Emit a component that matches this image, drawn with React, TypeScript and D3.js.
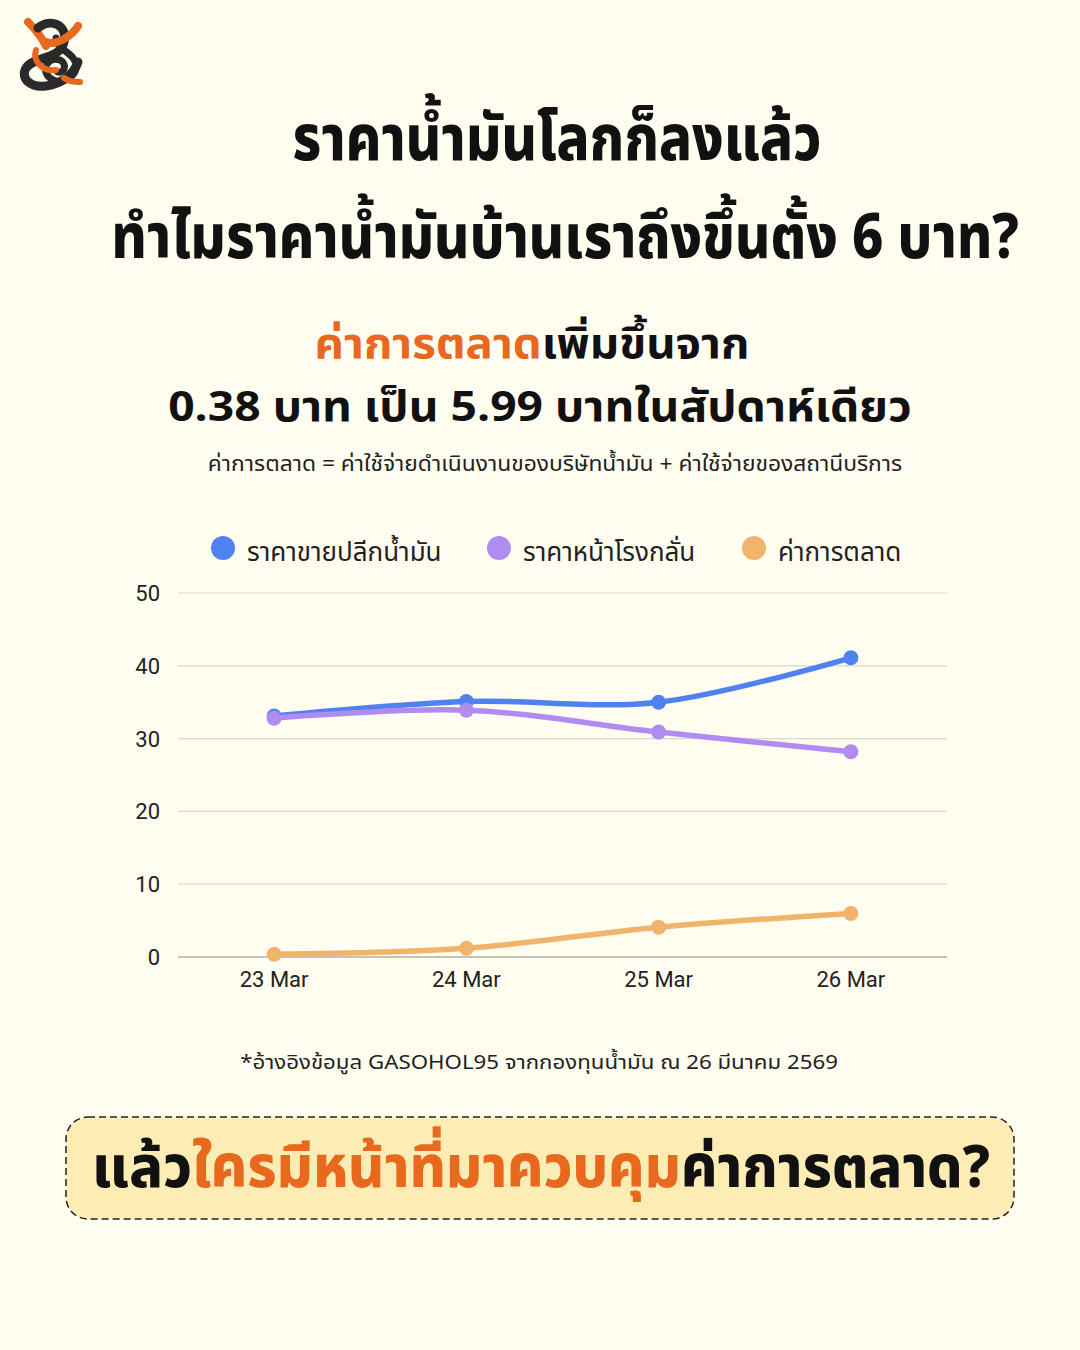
import React, { useLayoutEffect, useRef, useState } from "react";
import * as d3 from "d3";

const dates = ["23 Mar", "24 Mar", "25 Mar", "26 Mar"];
const retailPrice = [33.1, 35.1, 35.0, 41.1];
const refineryPrice = [32.8, 33.9, 30.9, 28.2];
const marketingMargin = [0.38, 1.2, 4.1, 5.99];
const yTicks = [0, 10, 20, 30, 40, 50];
const seriesNames = ["ราคาขายปลีกน้ำมัน", "ราคาหน้าโรงกลั่น", "ค่าการตลาด"];
const seriesColors = ["#4F82EE", "#B08CF0", "#F2B46A"];

const W = 1080;
const H = 1350;
const BG = "#FFFDF0";
const ORANGE = "#E8681E";
const THAI = "'Noto Sans Thai', 'Noto Sans Thai Looped', 'Sarabun', 'Kanit', 'Noto Sans', sans-serif";
const LATIN = "Roboto, 'Noto Sans', Arial, sans-serif";

function FitText(props: {
  cx: number;
  y: number;
  width: number;
  fontSize: number;
  fontWeight?: number;
  fill?: string;
  children: React.ReactNode;
}) {
  const ref = useRef<SVGTextElement>(null);
  const [s, setS] = useState(1);
  useLayoutEffect(() => {
    if (ref.current) {
      const w = ref.current.getComputedTextLength();
      if (w > 0) setS(props.width / w);
    }
  }, [props.width]);
  return (
    <g transform={`translate(${props.cx},${props.y}) scale(${s},1)`}>
      <text
        ref={ref}
        x={0}
        y={0}
        textAnchor="middle"
        fontFamily={THAI}
        fontWeight={props.fontWeight ?? 400}
        fontSize={props.fontSize}
        fill={props.fill ?? "#111"}
      >
        {props.children}
      </text>
    </g>
  );
}

export default function App() {
  const x = d3.scalePoint<string>().domain(dates).range([178, 947]).padding(0.5);
  const y = d3.scaleLinear().domain([0, 50]).range([957, 593]);
  const series = [retailPrice, refineryPrice, marketingMargin];
  const line = d3
    .line<number>()
    .x((_, i) => x(dates[i]) as number)
    .y((d) => y(d))
    .curve(d3.curveCatmullRom.alpha(0.5));
  const legendX = [223, 499, 754];

  return (
    <svg width={W} height={H} style={{ display: "block", position: "absolute", left: 0, top: 0 }}>
      <rect x={0} y={0} width={W} height={H} fill={BG} />

      {/* logo */}
      <g transform="translate(16,16)" fill="none" strokeLinecap="round">
        <path d="M12 6 C 20 14, 26 22, 30 30" stroke={ORANGE} strokeWidth={8} />
        <path d="M22 12 C 34 2, 52 8, 48 26 C 44 44, 18 40, 10 52 C 4 62, 14 72, 30 70 C 46 68, 58 58, 62 46" stroke="#2A2A2A" strokeWidth={9} />
        <path d="M40 22 C 40 34, 58 36, 60 48 C 62 62, 44 70, 34 62 C 24 54, 32 40, 44 44 C 52 48, 48 58, 42 56" stroke="#2A2A2A" strokeWidth={7} />
        <path d="M30 26 C 40 30, 56 20, 62 10" stroke={ORANGE} strokeWidth={8} />
        <path d="M20 34 C 16 46, 28 56, 40 54" stroke={ORANGE} strokeWidth={6} />
        <path d="M48 62 C 54 66, 60 66, 64 66" stroke={ORANGE} strokeWidth={6} />
      </g>

      {/* title */}
      <FitText cx={557} y={160} width={529} fontSize={64} fontWeight={800}>
        ราคาน้ำมันโลกก็ลงแล้ว
      </FitText>
      <FitText cx={565} y={258} width={908} fontSize={62} fontWeight={800}>
        ทำไมราคาน้ำมันบ้านเราถึงขึ้นตั้ง 6 บาท?
      </FitText>

      {/* subtitle */}
      <FitText cx={532} y={358} width={435} fontSize={42} fontWeight={700}>
        <tspan fill={ORANGE}>ค่าการตลาด</tspan>
        <tspan fill="#111">เพิ่มขึ้นจาก</tspan>
      </FitText>
      <FitText cx={540} y={421} width={744} fontSize={42} fontWeight={700}>
        0.38 บาท เป็น 5.99 บาทในสัปดาห์เดียว
      </FitText>
      <FitText cx={555} y={471} width={695} fontSize={21} fill="#222">
        ค่าการตลาด = ค่าใช้จ่ายดำเนินงานของบริษัทน้ำมัน + ค่าใช้จ่ายของสถานีบริการ
      </FitText>

      {/* legend */}
      {seriesNames.map((n, i) => (
        <g key={n}>
          <circle cx={legendX[i]} cy={548} r={12} fill={seriesColors[i]} />
          <text x={legendX[i] + 24} y={561} fontFamily={THAI} fontSize={26} fill="#222">
            {n}
          </text>
        </g>
      ))}

      {/* grid */}
      {yTicks.map((t) => (
        <g key={t}>
          <line x1={178} x2={947} y1={y(t)} y2={y(t)} stroke={t === 0 ? "#8A8A80" : "#D8D8D0"} strokeWidth={1.2} />
          <text x={160} y={y(t) + 8} textAnchor="end" fontFamily={LATIN} fontSize={22} fill="#222">
            {t}
          </text>
        </g>
      ))}
      {dates.map((d) => (
        <text key={d} x={x(d) as number} y={987} textAnchor="middle" fontFamily={LATIN} fontSize={22} fill="#222">
          {d}
        </text>
      ))}

      {/* series */}
      {series.map((s, i) => (
        <g key={i}>
          <path d={line(s) || ""} fill="none" stroke={seriesColors[i]} strokeWidth={5.5} strokeLinecap="round" />
          {s.map((v, j) => (
            <circle key={j} cx={x(dates[j]) as number} cy={y(v)} r={7.5} fill={seriesColors[i]} />
          ))}
        </g>
      ))}

      {/* footnote */}
      <FitText cx={539} y={1069} width={598} fontSize={20} fill="#222">
        *อ้างอิงข้อมูล GASOHOL95 จากกองทุนน้ำมัน ณ 26 มีนาคม 2569
      </FitText>

      {/* bottom box */}
      <rect x={66} y={1117} width={948} height={102} rx={22} fill="#FDEDB5" stroke="#222" strokeWidth={1.5} strokeDasharray="7 4" />
      <FitText cx={541} y={1187} width={898} fontSize={58} fontWeight={800}>
        <tspan fill="#111">แล้ว</tspan>
        <tspan fill={ORANGE}>ใครมีหน้าที่มาควบคุม</tspan>
        <tspan fill="#111">ค่าการตลาด?</tspan>
      </FitText>
    </svg>
  );
}
